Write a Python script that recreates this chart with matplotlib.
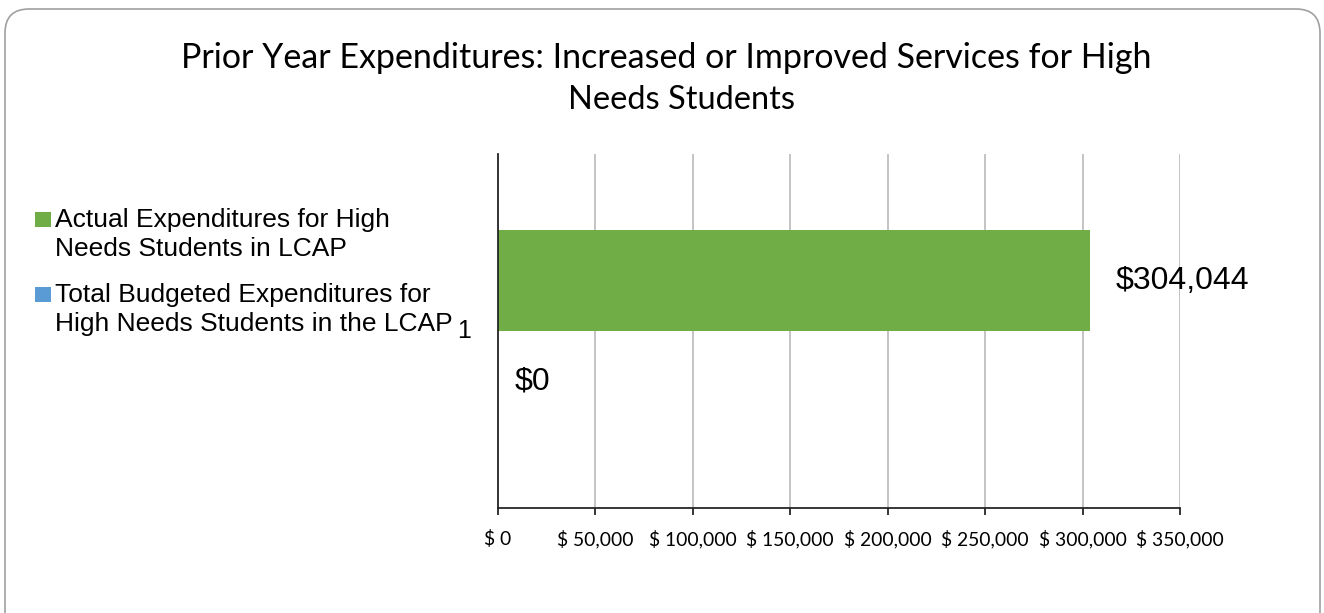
import matplotlib
matplotlib.use("Agg")
import matplotlib.pyplot as plt
from matplotlib.patches import FancyBboxPatch, Rectangle
from matplotlib.ticker import FuncFormatter
from matplotlib.transforms import IdentityTransform

# ---------------- data ----------------
title_lines = ["Prior Year Expenditures: Increased or Improved Services for High",
               "Needs Students"]
series_names = ["Actual Expenditures for High\nNeeds Students in LCAP",
                "Total Budgeted Expenditures for\nHigh Needs Students in the LCAP"]
series_values = [304044, 0]
series_colors = ["#70AD47", "#5B9BD5"]
x_ticks = [0, 50000, 100000, 150000, 200000, 250000, 300000, 350000]
footnote_mark = "1"

# ---------------- figure ----------------
W, H = 1324, 613
fig = plt.figure(figsize=(W / 100, H / 100), dpi=100)
fig.patch.set_facecolor("white")


def fx(px):
    return px / W


def fy(py):
    return 1 - py / H


renderer = fig.canvas.get_renderer()


def fit_width(txt, target_px):
    w = txt.get_window_extent(renderer).width
    txt.set_fontsize(txt.get_fontsize() * target_px / w)


TITLE_FONT = ["Lato", "DejaVu Sans"]
BODY_FONT = ["Liberation Sans", "DejaVu Sans"]

# rounded frame
frame = FancyBboxPatch((5, -40), 1315, H - 9 + 40,
                       boxstyle="round,pad=0,rounding_size=24",
                       transform=IdentityTransform(), facecolor="none",
                       edgecolor="#A0A0A0", linewidth=1.2)
fig.add_artist(frame)

# title
title_centers = [(666, 58), (681, 100)]
title_widths = [973, 207]
ttl = fig.text(fx(title_centers[0][0]), fy(title_centers[0][1]), title_lines[0],
               ha="center", va="center", fontsize=20, family=TITLE_FONT, color="#000000")
fit_width(ttl, title_widths[0])
tsize = ttl.get_fontsize()
fig.text(fx(title_centers[1][0]), fy(title_centers[1][1]), title_lines[1],
         ha="center", va="center", fontsize=tsize * 0.96, family=TITLE_FONT, color="#000000")

# axes
ax = fig.add_axes([fx(498), fy(508), fx(1180) - fx(498), fy(154) - fy(508)])
bar_h = 0.285
ypos = [bar_h / 2, -bar_h / 2]
ax.barh(ypos, series_values, height=bar_h, color=series_colors, zorder=3)
ax.set_ylim(-0.5, 0.5)
ax.set_xlim(x_ticks[0], x_ticks[-1])
ax.set_xticks(x_ticks)
ax.xaxis.set_major_formatter(FuncFormatter(lambda v, p: f"$ {v:,.0f}"))
ax.set_yticks([])
ax.grid(axis="x", color="#BFBFBF", linewidth=1.3, zorder=0)
ax.set_axisbelow(True)
for s in ["top", "right"]:
    ax.spines[s].set_visible(False)
for s in ["left", "bottom"]:
    ax.spines[s].set_color("#262626")
    ax.spines[s].set_linewidth(1.3)
    ax.spines[s].set_zorder(4)
ax.tick_params(axis="x", length=5, width=1.3, color="#262626", pad=11)
for lab in ax.get_xticklabels():
    lab.set_family(TITLE_FONT)
    lab.set_fontsize(12)
fig.canvas.draw()
lbls = ax.get_xticklabels()
w_last = lbls[-1].get_window_extent(renderer).width
tick_size = 12 * 87 / w_last
for lab in ax.get_xticklabels():
    lab.set_fontsize(tick_size)

# data labels
label_offsets = [25, 17]
for y, v, off in zip(ypos, series_values, label_offsets):
    ax.annotate(f"${v:,.0f}", xy=(v, y), xytext=(off, 0), textcoords="offset pixels",
                ha="left", va="center", fontsize=23, family=BODY_FONT, color="#000000",
                zorder=5)

# legend (manual)
leg_rows = [(212, 227), (287, 302)]
line_gap = 29
for (top, base), name, col in zip(leg_rows, series_names, series_colors):
    fig.add_artist(Rectangle((35, H - top - 15), 16, 15, transform=IdentityTransform(),
                             facecolor=col, edgecolor="none"))
    for i, line in enumerate(name.split("\n")):
        t = fig.text(fx(55), fy(base + i * line_gap), line, ha="left", va="baseline",
                     fontsize=19, family=BODY_FONT, color="#000000")
fig.text(fx(457), fy(338), footnote_mark, ha="left", va="baseline",
         fontsize=18, family=BODY_FONT, color="#000000")

fig.savefig("out.png", dpi=100)
